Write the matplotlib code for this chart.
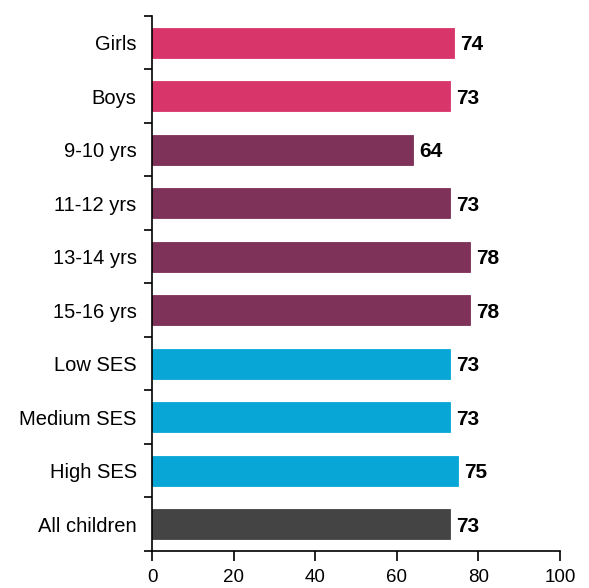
import numpy as np
import matplotlib.pyplot as plt

# Data
categories = ["Girls", "Boys", "9-10 yrs", "11-12 yrs", "13-14 yrs", "15-16 yrs",
              "Low SES", "Medium SES", "High SES", "All children"]
values = [74, 73, 64, 73, 78, 78, 73, 73, 75, 73]
groups = ["gender", "gender", "age", "age", "age", "age", "ses", "ses", "ses", "all"]
group_colors = {"gender": "#d8366b", "age": "#7e3159", "ses": "#08a6d6", "all": "#444444"}
xticks = [0, 20, 40, 60, 80, 100]

fig = plt.figure(figsize=(5.89, 5.88), dpi=100)
ax = fig.add_axes([152 / 589, 1 - 551 / 588, 408 / 589, 535 / 588])

y = np.arange(len(categories))
colors = [group_colors[g] for g in groups]
bars = ax.barh(y, values, height=0.56, color=colors, edgecolor=colors, linewidth=0.6)

for b, v in zip(bars, values):
    ax.text(b.get_width() + 1.5, b.get_y() + b.get_height() / 2, str(v),
            va="center_baseline", ha="left", fontsize=15, fontweight="bold",
            family="Liberation Sans", color="black")

ax.set_xlim(0, 100)
ax.set_ylim(len(categories) - 0.5, -0.5)
ax.set_xticks(xticks)
ax.set_xticklabels([str(t) for t in xticks], family="Liberation Sans", fontsize=13.5)
ax.set_yticks(y)
ax.set_yticklabels(categories, family="Liberation Sans", fontsize=14.5)
ax.set_yticks(np.arange(-0.5, len(categories), 1), minor=True)

ax.tick_params(axis="y", which="major", length=0, pad=11)
ax.tick_params(axis="y", which="minor", length=6, width=1.2, direction="out")
ax.tick_params(axis="x", which="major", length=7, width=1.2, direction="out", pad=6)

for s in ["top", "right"]:
    ax.spines[s].set_visible(False)
for s in ["left", "bottom"]:
    ax.spines[s].set_linewidth(1.2)

fig.savefig("out.png", dpi=100)
